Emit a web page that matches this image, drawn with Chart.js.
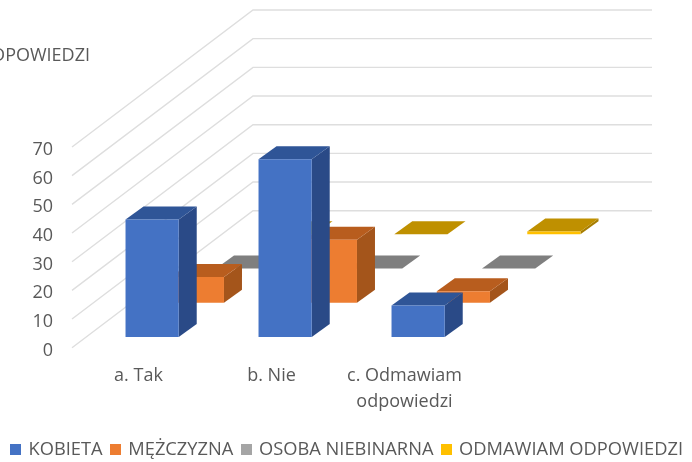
<!DOCTYPE html>
<html><head><meta charset="utf-8">
<style>html,body{margin:0;padding:0;background:#fff}#w{width:692px;height:462px;position:relative}</style>
<script src="https://cdn.jsdelivr.net/npm/chart.js@4"></script></head>
<body><div id="w"><canvas id="c"></canvas></div>
<script>
const categories = ['a. Tak', 'b. Nie', ['c. Odmawiam', 'odpowiedzi']];
const kobieta = [41, 62, 11];
const mezczyzna = [9, 22, 4];
const osobaNiebinarna = [0, 0, 0];
const odmawiam = [0, 0, 1];
const seriesNames = ['KOBIETA', 'MĘŻCZYZNA', 'OSOBA NIEBINARNA', 'ODMAWIAM ODPOWIEDZI'];
const titleText = 'ODPOWIEDZI';
const yTicks = [0, 10, 20, 30, 40, 50, 60, 70];

const front = ['#4472C4', '#ED7D31', '#A5A5A5', '#FFC000'];
const topC = ['#2F5597', '#B85D1E', '#7F7F7F', '#BF9000'];
const sideC = ['#2A4A87', '#A4551B', '#6E6E6E', '#A67D00'];
const textC = '#595959';
const FONT = '"Open Sans"';
const CELL = {dx: 45.25, dy: 34.25};
const BAR = {dx: 18, dy: 13};

function swatch(color) {
  const cv = document.createElement('canvas'); cv.width = 11; cv.height = 11;
  const g = cv.getContext('2d'); g.fillStyle = color; g.fillRect(0, 0, 11, 11);
  return cv;
}
function quad(ctx, pts, fill) {
  ctx.beginPath(); ctx.moveTo(pts[0][0], pts[0][1]);
  for (let i = 1; i < pts.length; i++) ctx.lineTo(pts[i][0], pts[i][1]);
  ctx.closePath(); ctx.fillStyle = fill; ctx.fill();
}
const depth3d = {
  id: 'depth3d',
  beforeDraw(chart) {
    const y = chart.scales.y;
    if (!y._shifted) {
      const base = y.drawLabels;
      y.drawLabels = function (area) {
        this.ctx.save(); this.ctx.translate(0, 3); base.call(this, area); this.ctx.restore();
      };
      y._shifted = true;
    }
  },
  beforeDatasetsDraw(chart) {
    const {ctx, chartArea: a, scales: {y}} = chart;
    const wx = CELL.dx * 4, wy = CELL.dy * 4;
    ctx.save(); ctx.strokeStyle = '#DEDEDE'; ctx.lineWidth = 1.4;
    y.ticks.forEach(t => {
      const p = y.getPixelForValue(t.value);
      ctx.beginPath(); ctx.moveTo(a.left, p); ctx.lineTo(a.left + wx, p - wy); ctx.lineTo(a.right + wx, p - wy); ctx.stroke();
    });
    ctx.restore();
  },
  beforeDatasetDraw(chart, args) {
    const ctx = chart.ctx, i = args.index;
    ctx.save();
    ctx.translate(CELL.dx * i + (CELL.dx - BAR.dx) / 2, -CELL.dy * i - (CELL.dy - BAR.dy) / 2);
    chart.getDatasetMeta(i).data.forEach(b => {
      const l = b.x - b.width / 2, r = b.x + b.width / 2, t = b.y, base = b.base;
      quad(ctx, [[r, t], [r + BAR.dx, t - BAR.dy], [r + BAR.dx, base - BAR.dy], [r, base]], sideC[i]);
      quad(ctx, [[l, t], [l + BAR.dx, t - BAR.dy], [r + BAR.dx, t - BAR.dy], [r, t]], topC[i]);
    });
  },
  afterDatasetDraw(chart) { chart.ctx.restore(); },
  afterDraw(chart) {
    const ctx = chart.ctx;
    ctx.save(); ctx.font = '18px ' + FONT; ctx.fillStyle = textC;
    ctx.textAlign = 'right'; ctx.textBaseline = 'middle';
    ctx.fillText(titleText, 90, 56); ctx.restore();
  }
};
const allSeries = [kobieta, mezczyzna, osobaNiebinarna, odmawiam];
new Chart(document.getElementById('c'), {
  type: 'bar',
  data: {labels: categories, datasets: allSeries.map((d, i) => ({
    label: seriesNames[i], data: d, backgroundColor: front[i], borderWidth: 0, clip: false,
    grouped: false, barPercentage: 1, categoryPercentage: 0.4
  }))},
  options: {
    responsive: true, maintainAspectRatio: false, animation: false,
    layout: {padding: {top: 147, left: 0, right: 0, bottom: -7}},
    plugins: {
      tooltip: {enabled: false},
      title: {display: false},
      legend: {position: 'bottom', align: 'end', labels: {
        usePointStyle: true, pointStyleWidth: 7.5, boxHeight: 11, padding: 9,
        color: textC, font: {family: FONT, size: 18.3},
        generateLabels(chart) {
          return seriesNames.map((n, i) => ({text: n, fontColor: textC, datasetIndex: i, pointStyle: swatch(front[i]), fillStyle: front[i], lineWidth: 0, hidden: false}));
        }
      }}
    },
    scales: {
      x: {grid: {display: false, drawTicks: false}, border: {display: false},
          ticks: {color: textC, padding: 15, maxRotation: 0, autoSkip: false, font: {family: FONT, size: 18, lineHeight: 1.44}},
          afterFit(s) { s.height = 84; }},
      y: {min: 0, max: 70, grid: {display: false, drawTicks: false}, border: {display: false},
          afterBuildTicks(s) { s.ticks = yTicks.map(v => ({value: v})); },
          ticks: {color: textC, padding: 19, font: {family: FONT, size: 18}},
          afterFit(s) { s.width = 72; }},
      rightGutter: {type: 'linear', position: 'right', grid: {display: false, drawTicks: false}, border: {display: false},
          ticks: {display: false}, afterFit(s) { s.width = 221; }}
    }
  },
  plugins: [depth3d]
});
document.getElementById('c').parentElement.style.height = '462px';
</script></body></html>
